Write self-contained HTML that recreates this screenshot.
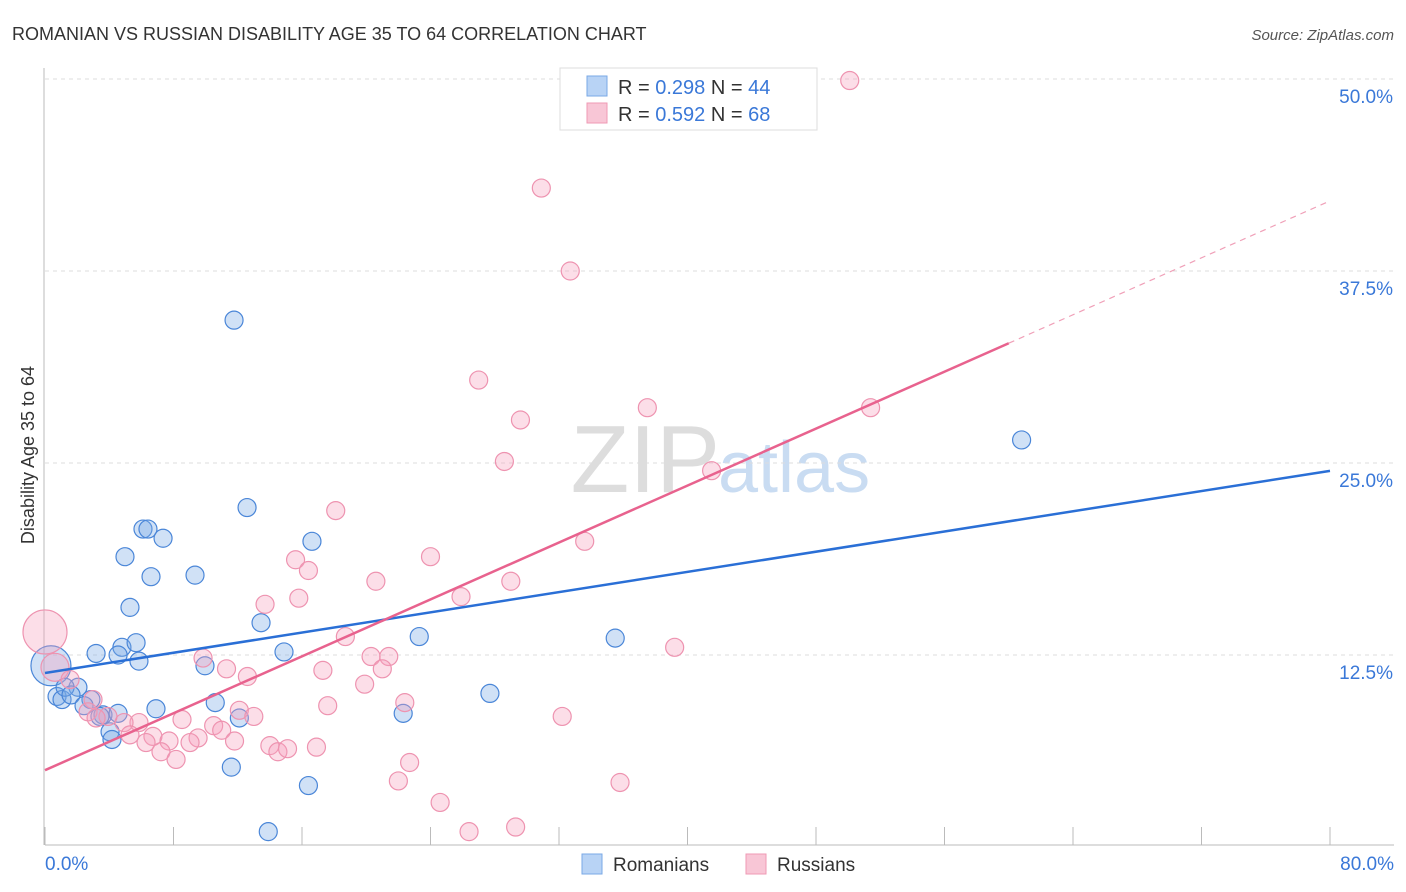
<!DOCTYPE html>
<html><head><meta charset="utf-8">
<style>
body{margin:0;background:#fff;font-family:"Liberation Sans",sans-serif;}
#wrap{position:relative;width:1406px;height:892px;overflow:hidden;}
svg text{font-family:"Liberation Sans",sans-serif;}
</style></head>
<body>
<div id="wrap">
<svg id="chart" width="1406" height="892">
<text x="12" y="40" font-size="18" fill="#333">ROMANIAN VS RUSSIAN DISABILITY AGE 35 TO 64 CORRELATION CHART</text>
<text x="1394" y="40" font-size="15" fill="#555" text-anchor="end" font-style="italic">Source: ZipAtlas.com</text>
<text x="720" y="492" font-size="96" fill="#ddd" text-anchor="end" font-family="Liberation Serif">ZIP</text>
<text x="718" y="492" font-size="72" fill="#c9dcf2">atlas</text>
<text x="34" y="455" font-size="18" fill="#333" text-anchor="middle" transform="rotate(-90 34 455)">Disability Age 35 to 64</text>
<g id="grid"></g><g id="axes"></g><g id="pts"></g><g id="lines"></g>
<g>
<rect x="560" y="68" width="257" height="62" fill="#fff" stroke="#ddd"/>
<rect x="587" y="76" width="20" height="20" fill="#b8d3f5" stroke="#7aa8e6"/>
<rect x="587" y="103" width="20" height="20" fill="#f8c6d6" stroke="#ef9ab4"/>
<text x="618" y="94" font-size="20" fill="#333">R = <tspan fill="#3a78d8">0.298</tspan>   N = <tspan fill="#3a78d8">44</tspan></text>
<text x="618" y="121" font-size="20" fill="#333">R = <tspan fill="#3a78d8">0.592</tspan>   N = <tspan fill="#3a78d8">68</tspan></text>
</g>
<g>
<rect x="582" y="854" width="20" height="20" fill="#b8d3f5" stroke="#7aa8e6"/>
<text x="613" y="871" font-size="19" fill="#333">Romanians</text>
<rect x="746" y="854" width="20" height="20" fill="#f8c6d6" stroke="#ef9ab4"/>
<text x="777" y="871" font-size="19" fill="#333">Russians</text>
</g>
</svg>
</div>
<script>
const xTicksPct=[0,8,16,24,32,40,48,56,64,72,80];
const yTicks=[12.5,25,37.5,50];
const yTickLabels=["12.5%","25.0%","37.5%","50.0%"];
const xEndLabels=["0.0%","80.0%"];
const romX=[11.77,12.58,6.10,6.41,7.35,4.98,16.62,6.60,9.34,5.29,13.45,4.79,5.67,3.18,4.55,5.85,14.88,9.96,23.3,35.5,60.8,27.7,22.3,10.6,12.1,6.91,11.6,16.4,13.9,0.37,2.05,0.75,1.06,1.25,1.62,2.86,2.43,3.61,3.42,4.05,4.17,4.55];
const romY=[34.3,22.1,20.7,20.7,20.1,18.9,19.9,17.6,17.7,15.6,14.6,13.0,13.3,12.6,12.5,12.1,12.7,11.8,13.7,13.6,26.5,10.0,8.7,9.4,8.4,9.0,5.2,4.0,1.0,11.8,10.4,9.8,9.6,10.4,9.9,9.6,9.2,8.6,8.5,7.5,7.0,8.7];
const romR=[9,9,9,9,9,9,9,9,9,9,9,9,9,9,9,9,9,9,9,9,9,9,9,9,9,9,9,9,9,20,9,9,9,9,9,9,9,9,9,9,9,9];
const rusX=[50.1,30.9,32.7,27.0,37.5,51.4,29.6,28.6,41.5,18.1,33.6,24.0,15.6,16.4,20.6,29.0,15.8,25.9,13.7,18.7,39.2,9.84,20.3,21.4,11.3,17.3,21.0,12.6,19.9,22.4,17.6,12.1,13.0,32.2,8.53,10.5,11.0,5.85,4.92,3.92,5.29,6.72,6.29,7.72,9.53,9.03,11.8,14.0,14.5,15.1,16.9,7.22,8.16,22.7,22.0,35.8,24.6,26.4,29.3,0,0.62,1.56,2.99,2.68,3.18];
const rusY=[49.9,42.9,37.5,30.4,28.6,28.6,27.8,25.1,24.5,21.9,19.9,18.9,18.7,18.0,17.3,17.3,16.2,16.3,15.8,13.7,13.0,12.3,12.4,12.4,11.6,11.5,11.6,11.1,10.6,9.4,9.2,8.9,8.5,8.5,8.3,7.9,7.6,8.1,8.1,8.5,7.3,7.2,6.8,6.9,7.1,6.8,6.9,6.6,6.2,6.4,6.5,6.2,5.7,5.5,4.3,4.2,2.9,1.0,1.3,14.0,11.7,10.9,9.6,8.8,8.4];
const rusR=rusX.map((v,i)=>i===59?22:(i===60?14:9));
const romFit=[11.33,0.1645];
const rusFit=[5.0,0.4633];
const X=v=>45+v*1285/80, Y=v=>847-v*15.36;
const NS="http://www.w3.org/2000/svg";
function mk(tag,attrs,parent){const e=document.createElementNS(NS,tag);for(const k in attrs)e.setAttribute(k,attrs[k]);document.getElementById(parent).appendChild(e);return e;}
yTicks.forEach((t,i)=>{
 const g=mk('line',{x1:45,x2:1394,y1:Y(t),y2:Y(t),stroke:'#ddd','stroke-dasharray':'4,4'},'grid');
 
 
 const l=mk('text',{x:1393,y:Y(t)+24,'font-size':19,fill:'#3a78d8','text-anchor':'end'},'grid');
 l.textContent=yTickLabels[i];
 
 
});
const ax=mk('line',{x1:45,x2:1394,y1:845,y2:845,stroke:'#bbb'},'axes');


const ay=mk('line',{x1:44,x2:44,y1:68,y2:845,stroke:'#bbb'},'axes');


xTicksPct.forEach(t=>{
 const tk=mk('line',{x1:X(t),x2:X(t),y1:827,y2:845,stroke:'#bbb'},'axes');
 
 
});
[[0,'start',45],[80,'end',1394]].forEach((d,i)=>{
 const t=mk('text',{x:d[2],y:870,'font-size':19,fill:'#3a78d8','text-anchor':d[1]},'axes');
 t.textContent=xEndLabels[i];
 
 
});
romX.forEach((v,i)=>{
 const c=mk('circle',{cx:X(v),cy:Y(romY[i]),r:romR[i],fill:'rgba(120,168,230,0.35)',stroke:'#4a86d8','stroke-width':1.2},'pts');
 
 
});
rusX.forEach((v,i)=>{
 const c=mk('circle',{cx:X(v),cy:Y(rusY[i]),r:rusR[i],fill:'rgba(245,160,188,0.35)',stroke:'#ee93b0','stroke-width':1.2},'pts');
 
 
});
const bl=mk('line',{x1:X(0),y1:Y(romFit[0]),x2:X(80),y2:Y(romFit[0]+romFit[1]*80),stroke:'#2a6fd6','stroke-width':2.5},'lines');


const pl=mk('line',{x1:X(0),y1:Y(rusFit[0]),x2:X(60),y2:Y(rusFit[0]+rusFit[1]*60),stroke:'#e8628e','stroke-width':2.5},'lines');


const pd=mk('line',{x1:X(60),y1:Y(rusFit[0]+rusFit[1]*60),x2:X(80),y2:Y(rusFit[0]+rusFit[1]*80),stroke:'#f0a0b8','stroke-width':1.2,'stroke-dasharray':'6,5'},'lines');


</script>
</body></html>
